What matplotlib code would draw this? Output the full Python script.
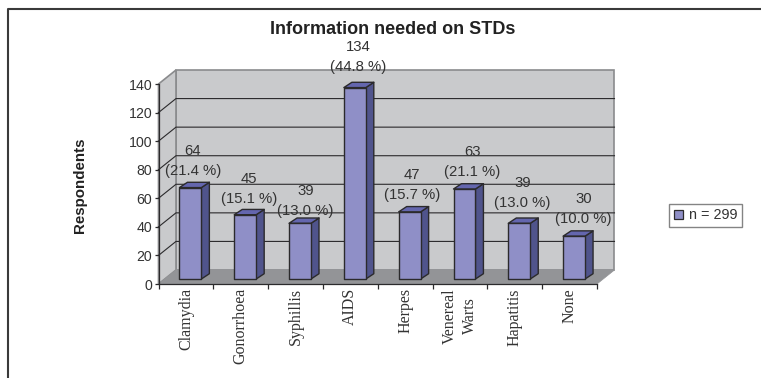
"""Bar chart with a 3D look: information needed on STDs, n = 299."""

import matplotlib

matplotlib.use("Agg")
import matplotlib.pyplot as plt
from matplotlib.lines import Line2D
from matplotlib.patches import Patch, Polygon

CATEGORIES = ["Clamydia", "Gonorrhoea", "Syphillis", "AIDS", "Herpes", "Venereal\nWarts", "Hapatitis", "None"]
COUNTS = [64, 45, 39, 134, 47, 63, 39, 30]
PERCENTS = [21.4, 15.1, 13.0, 44.8, 15.7, 21.1, 13.0, 10.0]
Y_TICKS = [0, 20, 40, 60, 80, 100, 120, 140]

# hand placement of the value labels, pixels from slot centre / bar top
LABEL_DX = [7, 8, 10, 7.5, 6.5, 12.5, 7.5, 14]
LABEL_DY = [17, 16, 12, 20.5, 17, 17.5, 20.5, 17]
LINE_GAP = 20

WIDTH, HEIGHT = 761, 378
PX = 0.72  # points per pixel at dpi 100

# depth of the box and of the bars, in data units
WALL_DX, WALL_DY = 0.319, 9.8
BAR_SHIFT_X, BAR_SHIFT_Y = 0.082, 3.5
BAR_WIDTH = 0.4
BAR_DX, BAR_DY = 0.146, 3.7

WALL = "#c9cacc"
FLOOR = "#939497"
EDGE = "#8a8b8d"
DARK = "#2b2a2c"
TEXT = "#333333"
FRONT = "#8f8fc7"
SIDE = "#50548c"
TOP = "#6466ae"

plt.rcParams["font.family"] = ["Liberation Sans", "DejaVu Sans"]


def draw_box(ax):
    """Back wall, side wall, floor and the grid lines on the walls."""
    x_max = len(CATEGORIES)
    y_max = Y_TICKS[-1]
    back = [(WALL_DX, WALL_DY), (x_max + WALL_DX, WALL_DY), (x_max + WALL_DX, y_max + WALL_DY), (WALL_DX, y_max + WALL_DY)]
    side = [(0, 0), (WALL_DX, WALL_DY), (WALL_DX, y_max + WALL_DY), (0, y_max)]
    floor = [(0, 0), (x_max, 0), (x_max + WALL_DX, WALL_DY), (WALL_DX, WALL_DY)]
    ax.add_patch(Polygon(back, facecolor=WALL, edgecolor=EDGE, lw=1.2, clip_on=False, zorder=1))
    ax.add_patch(Polygon(side, facecolor=WALL, edgecolor=EDGE, lw=1.2, clip_on=False, zorder=1))
    ax.add_patch(Polygon(floor, facecolor=FLOOR, edgecolor=FLOOR, lw=0.5, clip_on=False, zorder=1.2))
    for tick in Y_TICKS[1:-1]:
        ax.plot([0, WALL_DX, x_max + WALL_DX], [tick, tick + WALL_DY, tick + WALL_DY],
                color=DARK, lw=0.8, clip_on=False, zorder=1.1)


def draw_bar(ax, slot, value):
    """One bar as three polygons: side, top and front face."""
    left = slot + 0.5 + BAR_SHIFT_X - BAR_WIDTH / 2
    right = left + BAR_WIDTH
    base = BAR_SHIFT_Y
    top = base + value
    faces = [
        (SIDE, [(right, base), (right + BAR_DX, base + BAR_DY), (right + BAR_DX, top + BAR_DY), (right, top)]),
        (TOP, [(left, top), (right, top), (right + BAR_DX, top + BAR_DY), (left + BAR_DX, top + BAR_DY)]),
        (FRONT, [(left, base), (right, base), (right, top), (left, top)]),
    ]
    for color, points in faces:
        ax.add_patch(Polygon(points, facecolor=color, edgecolor=DARK, lw=1.0, joinstyle="round", clip_on=False, zorder=3))


def main():
    fig = plt.figure(figsize=(WIDTH / 100, HEIGHT / 100), dpi=100)
    ax = fig.add_axes([158.5 / WIDTH, (HEIGHT - 284) / HEIGHT, 438.5 / WIDTH, 200 / HEIGHT])
    ax.patch.set_visible(False)
    ax.set_xlim(0, len(CATEGORIES))
    ax.set_ylim(0, Y_TICKS[-1])

    draw_box(ax)
    for slot, value in enumerate(COUNTS):
        draw_bar(ax, slot, value)

    for spine in ("top", "right"):
        ax.spines[spine].set_visible(False)
    for spine in ("left", "bottom"):
        ax.spines[spine].set_color(DARK)
        ax.spines[spine].set_linewidth(0.9)
        ax.spines[spine].set_zorder(2)

    ax.set_yticks(Y_TICKS)
    ax.tick_params(axis="y", length=3.2, width=0.9, color=DARK, pad=1.3, labelsize=10.2, labelcolor=TEXT)
    ax.set_xticks(range(len(CATEGORIES) + 1))
    ax.set_xticklabels([])
    ax.tick_params(axis="x", length=3.6, width=0.9, color=DARK)

    for slot, (name, count, percent) in enumerate(zip(CATEGORIES, COUNTS, PERCENTS)):
        ax.annotate(name, (slot + 0.5, 0), xytext=(0, -4 * PX), textcoords="offset points",
                    rotation=90, ha="center", va="top", rotation_mode="default", multialignment="center",
                    family="Liberation Serif", fontsize=11.5, color=TEXT, linespacing=1.4)
        bar_top = BAR_SHIFT_Y + count
        dx = LABEL_DX[slot] * PX
        dy = LABEL_DY[slot] * PX
        ax.annotate(f"({percent:.1f} %)", (slot + 0.5, bar_top), xytext=(dx, dy), textcoords="offset points",
                    ha="center", va="center", fontsize=10.7, color=TEXT, zorder=5, annotation_clip=False)
        ax.annotate(str(count), (slot + 0.5, bar_top), xytext=(dx, dy + LINE_GAP * PX), textcoords="offset points",
                    ha="center", va="center", fontsize=10.7, color=TEXT, zorder=5, annotation_clip=False)

    fig.text(393 / WIDTH, 1 - 29 / HEIGHT, "Information needed on STDs", ha="center", va="center",
             fontsize=13, fontweight="bold", color="#222222")
    fig.text(80 / WIDTH, 1 - 185.5 / HEIGHT, "Respondents", rotation=90, ha="center", va="center",
             fontsize=10.9, fontweight="bold", color="#222222")

    handle = Patch(facecolor=FRONT, edgecolor=DARK, lw=0.9, label="n = 299")
    legend = fig.legend(handles=[handle], loc="center", bbox_to_anchor=(705.5 / WIDTH, 1 - 215.3 / HEIGHT),
                        fontsize=10.4, frameon=True, fancybox=False, handlelength=0.62, handleheight=0.62,
                        handletextpad=0.4, borderpad=0.33, borderaxespad=0, labelcolor=TEXT)
    legend.get_frame().set_edgecolor("#666666")
    legend.get_frame().set_linewidth(1.0)

    # outer frame, open to the right and at the bottom
    fig.add_artist(Line2D([8 / WIDTH, 8 / WIDTH, 1], [0, 1 - 9 / HEIGHT, 1 - 9 / HEIGHT], color="#3a3a3a", lw=1.5))

    fig.savefig("out.png", dpi=100)
    plt.close(fig)


if __name__ == "__main__":
    main()
